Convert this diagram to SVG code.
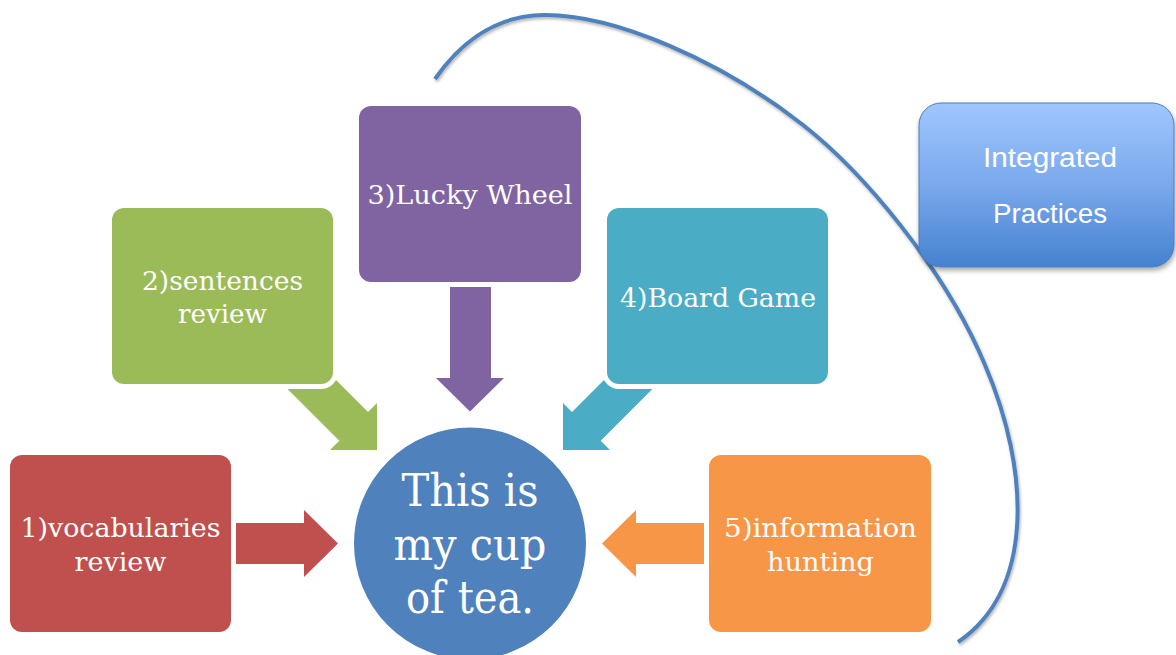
<svg xmlns="http://www.w3.org/2000/svg" width="1176" height="655" viewBox="0 0 1176 655">
<style>
.box{stroke:#fff;stroke-width:10;paint-order:stroke}
.lbl{font-family:"DejaVu Serif","Liberation Serif",serif;font-size:26px;fill:#fff;text-anchor:middle}
.big{font-family:"DejaVu Serif","Liberation Serif",serif;font-size:44px;fill:#fff;text-anchor:middle}
.sans{font-family:"Liberation Sans","Open Sans",sans-serif;font-size:27px;fill:#fff;text-anchor:middle}
</style>
<defs>
<linearGradient id="gb" x1="0" y1="0" x2="0" y2="1">
<stop offset="0" stop-color="#a0c6ff"/>
<stop offset="0.5" stop-color="#7aa9ec"/>
<stop offset="1" stop-color="#4581d0"/>
</linearGradient>
<filter id="sh" x="-10%" y="-10%" width="130%" height="130%">
<feDropShadow dx="1" dy="3" stdDeviation="2.5" flood-color="#000" flood-opacity="0.35"/>
</filter>
<filter id="shl" x="-5%" y="-5%" width="110%" height="110%">
<feDropShadow dx="1" dy="2" stdDeviation="1.5" flood-color="#000" flood-opacity="0.3"/>
</filter>
</defs>
<rect width="1176" height="655" fill="#fff"/>

<g id="connectors">
<path id="curve" d="M435,79 C455,50 490,15 545,15 C615,15 720,60 803,125 C863,172 945,269 985,365 C1030,470 1035,590 958,642" fill="none" stroke="#4f81bd" stroke-width="4" filter="url(#shl)"/>
<polygon id="a1" fill="#c0504d" points="200,523 304,523 304,510 338,543.5 304,577 304,564 200,564"/>
<polygon id="a2" fill="#9bbb59" points="259.3,360.7 288,332 368,412 377,403 377,450 330,450 339.3,440.7"/>
<polygon id="a3" fill="#8064a2" points="450,250 491,250 491,378 504,378 470,411.5 436,378 450,378"/>
<polygon id="a4" fill="#4bacc6" transform="translate(940,0) scale(-1,1)" points="259.3,360.7 288,332 368,412 377,403 377,450 330,450 339.3,440.7"/>
<polygon id="a5" fill="#f79646" transform="translate(940,0) scale(-1,1)" points="200,523 304,523 304,510 338,543.5 304,577 304,564 200,564"/>
</g>

<g id="n1">
<rect class="box" x="10" y="455" width="221" height="177" rx="12" fill="#c0504d"/>
<text class="lbl" x="120.5" y="537" textLength="200" lengthAdjust="spacingAndGlyphs">1)vocabularies</text>
<text class="lbl" x="120.5" y="570.5" textLength="92" lengthAdjust="spacingAndGlyphs">review</text>
</g>
<g id="n2">
<rect class="box" x="112" y="208" width="221" height="176" rx="12" fill="#9bbb59"/>
<text class="lbl" x="222.5" y="290" textLength="161" lengthAdjust="spacingAndGlyphs">2)sentences</text>
<text class="lbl" x="222.5" y="322.5" textLength="89" lengthAdjust="spacingAndGlyphs">review</text>
</g>
<g id="n3">
<rect class="box" x="359" y="106" width="222" height="176" rx="12" fill="#8064a2"/>
<text class="lbl" x="470" y="204" textLength="205" lengthAdjust="spacingAndGlyphs">3)Lucky Wheel</text>
</g>
<g id="n4">
<rect class="box" x="607" y="208" width="221" height="176" rx="12" fill="#4bacc6"/>
<text class="lbl" x="718" y="307" textLength="196" lengthAdjust="spacingAndGlyphs">4)Board Game</text>
</g>
<g id="n5">
<rect class="box" x="709" y="455" width="222" height="177" rx="12" fill="#f79646"/>
<text class="lbl" x="820.5" y="537" textLength="193" lengthAdjust="spacingAndGlyphs">5)information</text>
<text class="lbl" x="820.5" y="570.5" textLength="107" lengthAdjust="spacingAndGlyphs">hunting</text>
</g>
<g id="center">
<circle cx="470" cy="543.5" r="117" fill="#4f81bd" stroke="#fff" stroke-width="2"/>
<text class="big" x="470" y="506" textLength="137" lengthAdjust="spacingAndGlyphs">This is</text>
<text class="big" x="470" y="559.5" textLength="153" lengthAdjust="spacingAndGlyphs">my cup</text>
<text class="big" x="470" y="612.5" textLength="128" lengthAdjust="spacingAndGlyphs">of tea.</text>
</g>
<g id="integrated">
<rect x="919" y="103" width="255" height="164" rx="22" fill="url(#gb)" stroke="#4a7ebb" stroke-width="1" filter="url(#sh)"/>
<text class="sans" x="1050" y="167" textLength="134" lengthAdjust="spacingAndGlyphs">Integrated</text>
<text class="sans" x="1050" y="223" textLength="114" lengthAdjust="spacingAndGlyphs">Practices</text>
</g>
</svg>
